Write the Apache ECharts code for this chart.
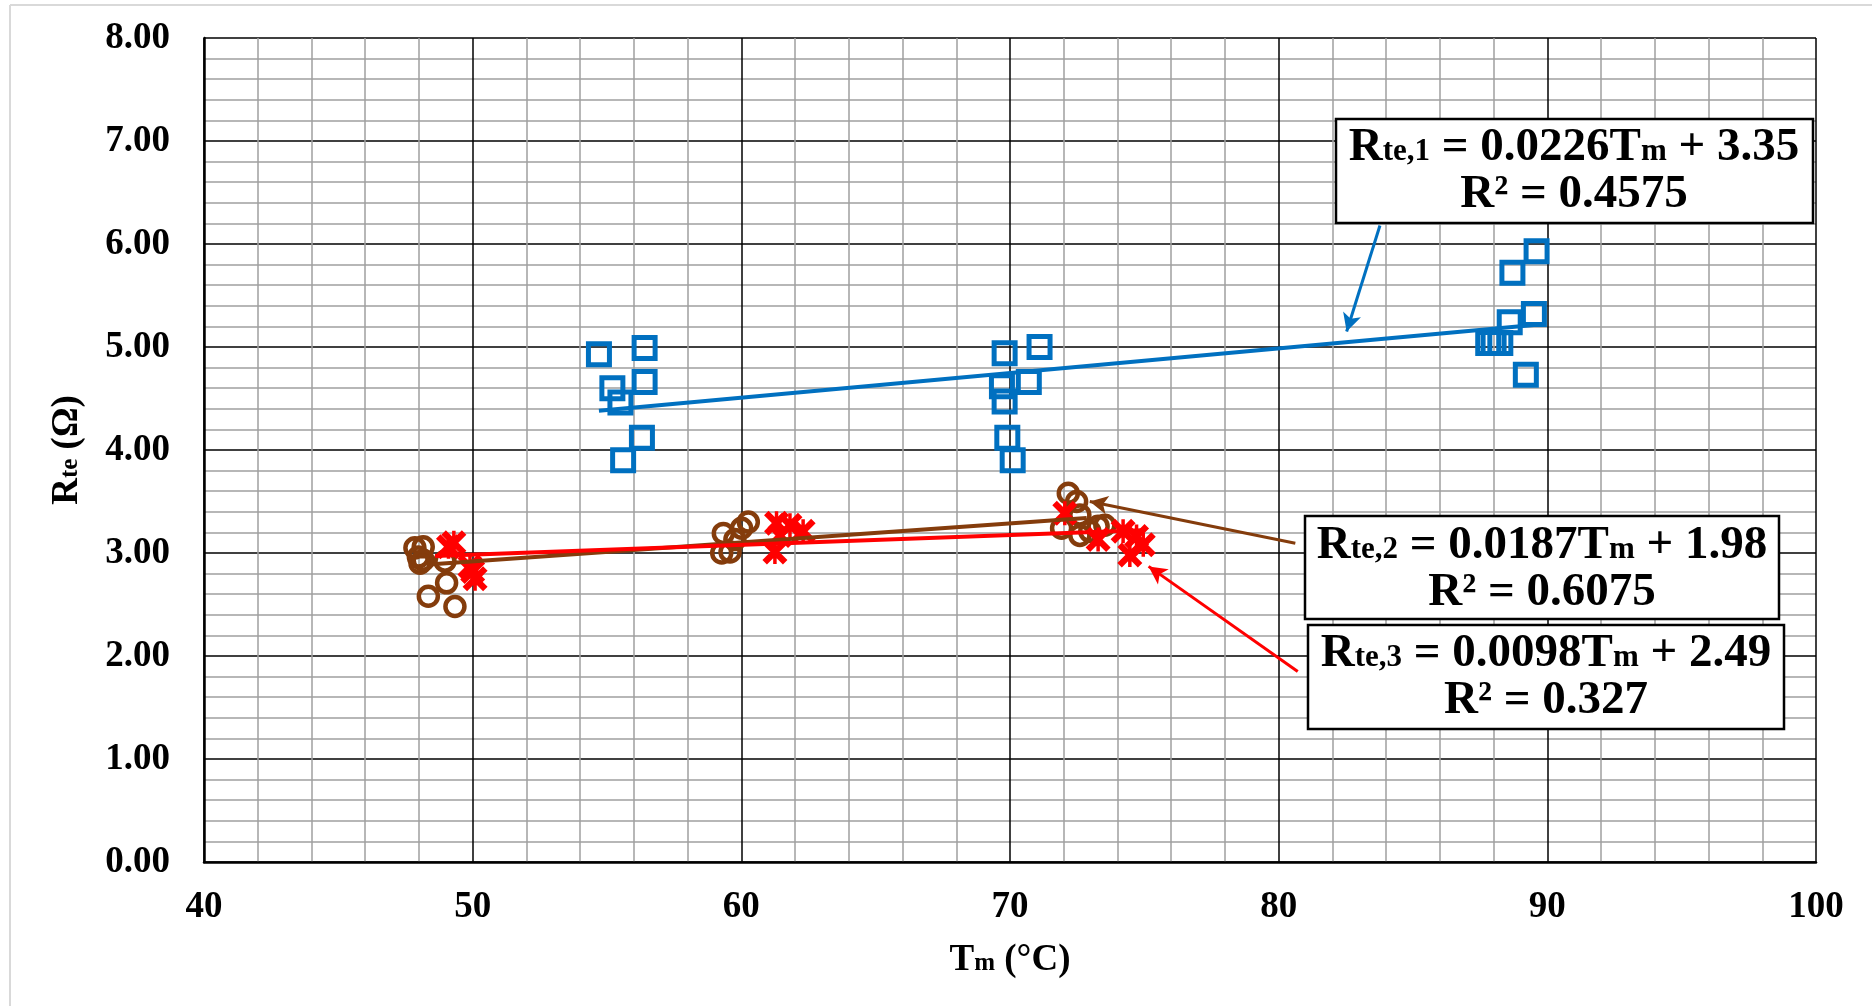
<!DOCTYPE html>
<html><head><meta charset="utf-8">
<script src="https://cdn.jsdelivr.net/npm/echarts@6/dist/echarts.min.js"></script>
<style>html,body{margin:0;padding:0;background:#fff;}#c{width:1872px;height:1006px;}</style>
</head><body><div id="c"></div>
<script>
// ---- data ----
const xRange = [40, 100];
const yRange = [0, 8];
const rte1Points = [
  [54.7,4.93],[56.4,4.99],[55.2,4.60],[56.4,4.66],[55.5,4.46],[56.3,4.12],[55.6,3.90],
  [69.8,4.94],[71.1,5.00],[70.7,4.66],[69.7,4.62],[69.8,4.47],[69.9,4.12],[70.1,3.90],
  [89.6,5.93],[88.7,5.72],[89.5,5.32],[88.6,5.24],[87.8,5.04],[88.0,5.04],[88.25,5.04],[89.2,4.73]
];
const rte2Points = [
  [47.85,3.05],[48.16,3.06],[47.98,2.96],[48.04,2.90],[48.16,2.93],[48.97,2.92],[49.03,2.71],[48.35,2.58],[49.34,2.48],
  [59.33,3.19],[59.58,3.01],[60.01,3.24],[60.26,3.30],[59.76,3.13],[59.27,3.00],
  [72.17,3.58],[72.48,3.50],[72.60,3.37],[71.92,3.24],[72.60,3.17],[73.28,3.26],[73.53,3.27],[72.97,3.21]
];
const rte3Points = [
  [49.1,3.06],[49.3,3.10],[49.9,2.87],[50.09,2.75],[50.0,2.82],
  [61.31,3.29],[61.81,3.27],[62.30,3.21],[61.25,3.01],[61.44,3.17],
  [72.04,3.385],[73.28,3.13],[74.21,3.21],[74.71,3.16],[74.96,3.08],[74.46,2.98]
];
const rte1Trend = [[54.7,4.38],[89.8,5.22]];
const rte2Trend = [[48.5,2.89],[72.85,3.34]];
const rte3Trend = [[48.6,2.97],[74.9,3.22]];
const rte1Arrow = [[83.77,6.18],[82.53,5.15]];
const rte2Arrow = [[80.62,3.095],[72.97,3.50]];
const rte3Arrow = [[80.71,1.85],[75.16,2.87]];
const eqLabels = [
  {idx:'1', a:'0.0226', b:'3.35', r2:'0.4575'},
  {idx:'2', a:'0.0187', b:'1.98', r2:'0.6075'},
  {idx:'3', a:'0.0098', b:'2.49', r2:'0.327'}
];

// ---- styles ----
const FF = '"Liberation Serif","Times New Roman",serif';
const BLUE = '#0070C0', BROWN = '#843C0C', RED = '#FF0000';
const crossPath = 'path://M0,1.8L1.8,0L5,3.2L8.2,0L10,1.8L6.8,5L10,8.2L8.2,10L5,6.8L1.8,10L0,8.2L3.2,5Z M4.3,0.2L5.7,0.2L5.7,9.8L4.3,9.8Z';

const chart = echarts.init(document.getElementById('c'));

function arrowLine(pts, color) {
  return {
    silent: true, animation: false,
    symbol: ['none', 'arrow'], symbolSize: [14, 18],
    label: {show: false},
    lineStyle: {color: color, width: 3, type: 'solid', opacity: 1},
    emphasis: {disabled: true},
    data: [[{coord: pts[0]}, {coord: pts[1]}]]
  };
}

const boxes = [
  {x: 1336, y: 119, w: 477, h: 104, cx: 1574, l1: 148, l2: 195},
  {x: 1305, y: 516, w: 474, h: 103, cx: 1542, l1: 546, l2: 593},
  {x: 1308, y: 625, w: 476, h: 104, cx: 1546, l1: 654, l2: 701}
];
const eqRich = {
  b: {fontFamily: FF, fontWeight: 'bold', fontSize: 47, color: '#000', verticalAlign: 'bottom', lineHeight: 47},
  s: {fontFamily: FF, fontWeight: 'bold', fontSize: 31, color: '#000', verticalAlign: 'bottom', lineHeight: 31, padding: [0,0,4,0]}
};
const graphics = [
  {type: 'line', silent: true, z: -10, shape: {x1: 10, y1: 5, x2: 10, y2: 1006}, style: {stroke: '#d9d9d9', lineWidth: 2}},
  {type: 'line', silent: true, z: -10, shape: {x1: 10, y1: 5, x2: 1872, y2: 5}, style: {stroke: '#d9d9d9', lineWidth: 2}}
];
eqLabels.forEach((e, i) => {
  const b = boxes[i];
  graphics.push({type: 'rect', silent: true, z: 100,
    shape: {x: b.x, y: b.y, width: b.w, height: b.h},
    style: {fill: '#fff', stroke: '#000', lineWidth: 2.5}});
  graphics.push({type: 'text', silent: true, z: 101, x: b.cx, y: b.l1,
    style: {text: '{b|R}{s|te,' + e.idx + '}{b| = ' + e.a + 'T}{s|m}{b| + ' + e.b + '}',
      rich: eqRich, align: 'center', verticalAlign: 'middle'}});
  graphics.push({type: 'text', silent: true, z: 101, x: b.cx, y: b.l2,
    style: {text: '{b|R² = ' + e.r2 + '}', rich: eqRich, align: 'center', verticalAlign: 'middle'}});
});

const axisLabelStyle = {fontFamily: FF, fontWeight: 'bold', fontSize: 37, color: '#000'};
const titleRich = {
  b: {fontFamily: FF, fontWeight: 'bold', fontSize: 37, color: '#000', verticalAlign: 'bottom', lineHeight: 37},
  s: {fontFamily: FF, fontWeight: 'bold', fontSize: 25, color: '#000', verticalAlign: 'bottom', lineHeight: 25, padding: [0,0,3,0]}
};

chart.setOption({
  animation: false,
  backgroundColor: '#fff',
  grid: {left: 204, right: 56, top: 38, bottom: 144, containLabel: false},
  xAxis: {
    type: 'value', min: xRange[0], max: xRange[1], interval: 10,
    name: '{b|T}{s|m}{b| (°C)}', nameLocation: 'middle', nameGap: 80,
    nameTextStyle: {rich: titleRich},
    axisLine: {show: true, onZero: false, lineStyle: {color: '#000', width: 2.5}},
    axisTick: {show: false},
    axisLabel: Object.assign({margin: 27}, axisLabelStyle),
    splitLine: {show: true, lineStyle: {color: '#000', width: 1.5}},
    minorTick: {show: false, splitNumber: 5},
    minorSplitLine: {show: true, lineStyle: {color: '#a0a0a0', width: 1.5}}
  },
  yAxis: {
    type: 'value', min: yRange[0], max: yRange[1], interval: 1,
    name: '{b|R}{s|te}{b| (Ω)}', nameLocation: 'middle', nameGap: 118, nameRotate: 90,
    nameTextStyle: {rich: titleRich},
    axisLine: {show: true, onZero: false, lineStyle: {color: '#000', width: 2.5}},
    axisTick: {show: false},
    axisLabel: Object.assign({margin: 34, formatter: v => v.toFixed(2)}, axisLabelStyle),
    splitLine: {show: true, lineStyle: {color: '#000', width: 1.5}},
    minorTick: {show: false, splitNumber: 5},
    minorSplitLine: {show: true, lineStyle: {color: '#a0a0a0', width: 1.5}}
  },
  series: [
    {type: 'scatter', name: 'Rte,1', data: rte1Points, symbol: 'rect', symbolSize: 21,
     itemStyle: {color: 'rgba(0,0,0,0)', borderColor: BLUE, borderWidth: 5, opacity: 1}, silent: true},
    {type: 'scatter', name: 'Rte,2', data: rte2Points, symbol: 'circle', symbolSize: 19,
     itemStyle: {color: 'rgba(0,0,0,0)', borderColor: BROWN, borderWidth: 4.5, opacity: 1}, silent: true},
    {type: 'scatter', name: 'Rte,3', data: rte3Points, symbol: crossPath, symbolSize: 25,
     itemStyle: {color: RED, opacity: 1}, silent: true},
    {type: 'line', data: rte1Trend, showSymbol: false, silent: true,
     lineStyle: {color: BLUE, width: 4}, markLine: arrowLine(rte1Arrow, BLUE)},
    {type: 'line', data: rte2Trend, showSymbol: false, silent: true,
     lineStyle: {color: BROWN, width: 4}, markLine: arrowLine(rte2Arrow, BROWN)},
    {type: 'line', data: rte3Trend, showSymbol: false, silent: true,
     lineStyle: {color: RED, width: 4}, markLine: arrowLine(rte3Arrow, RED)}
  ],
  graphic: graphics
});
</script></body></html>
